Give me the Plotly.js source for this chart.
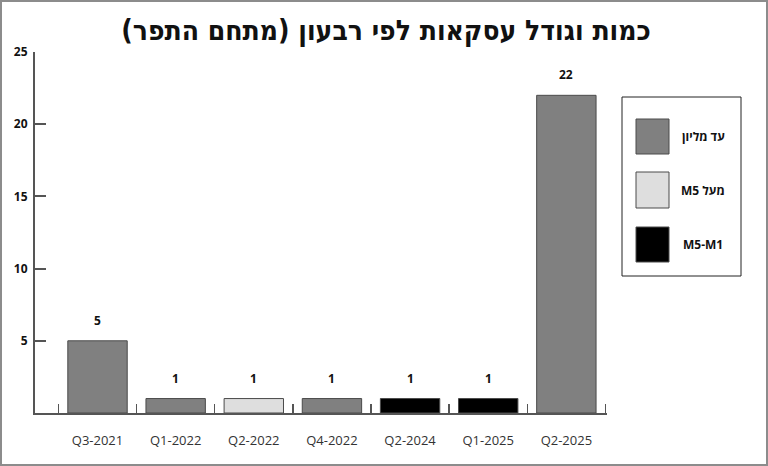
<!DOCTYPE html>
<html>
<head>
<meta charset="utf-8">
<script src="https://cdn.plot.ly/plotly-3.0.1.min.js"></script>
<style>
  body { margin: 0; background: #fff; }
  #wrap { position: relative; width: 768px; height: 466px; }
  #chart { width: 768px; height: 466px; }
  #frame { position: absolute; left: 0; top: 0; width: 768px; height: 466px;
           box-sizing: border-box; border: 2px solid #8c8c8c; pointer-events: none; }
</style>
</head>
<body>
<div id="wrap"><div id="chart"></div><div id="frame"></div></div>
<script>
var quarters = ['Q3-2021', 'Q1-2022', 'Q2-2022', 'Q4-2022', 'Q2-2024', 'Q1-2025', 'Q2-2025'];
var upToMillion = [5, 1, null, 1, null, null, 22];
var above5M = [null, null, 1, null, null, null, null];
var m1toM5 = [null, null, null, null, 1, 1, null];
var seriesNames = ['עד מליון', '\u202Bמעל M5\u202C', 'M5-M1'];
var seriesColors = ['#808080', '#dedede', '#000000'];
var yTicks = [5, 10, 15, 20, 25];

var W = 768, H = 466;
var margin = {l: 35, r: 161, t: 52, b: 53};
var plotW = W - margin.l - margin.r;
var plotH = H - margin.t - margin.b;

// pixel -> paper coords, for the hand drawn legend box
function px(x) { return (x - margin.l) / plotW; }
function py(y) { return (H - margin.b - y) / plotH; }

var allSeries = [upToMillion, above5M, m1toM5];
var traces = allSeries.map(function (vals, i) {
    return {
        type: 'bar',
        x: quarters,
        y: vals,
        name: seriesNames[i],
        width: 0.76,
        marker: {color: seriesColors[i], line: {color: '#4a4a4a', width: 1}},
        showlegend: false,
        hoverinfo: 'x+y'
    };
});

// value labels above the bars
var annotations = [];
quarters.forEach(function (q, k) {
    var total = allSeries.map(s => s[k] || 0).reduce((a, b) => a + b, 0);
    annotations.push({
        x: q, y: total, xref: 'x', yref: 'y',
        text: String(total), showarrow: false,
        yanchor: 'bottom', yshift: 10,
        font: {family: 'Open Sans', size: 12, color: '#111', weight: 'bold'}
    });
});

// legend: box + big swatches + labels
var shapes = [{
    type: 'rect', xref: 'paper', yref: 'paper',
    x0: px(622), x1: px(741), y0: py(276), y1: py(97),
    line: {color: '#222', width: 1}, fillcolor: 'rgba(0,0,0,0)'
}];
var rows = [[119, 154], [172, 208], [227, 262]];
rows.forEach(function (r, i) {
    shapes.push({
        type: 'rect', xref: 'paper', yref: 'paper',
        x0: px(636), x1: px(669), y0: py(r[1]), y1: py(r[0]),
        line: {color: '#4a4a4a', width: 1}, fillcolor: seriesColors[i]
    });
    annotations.push({
        xref: 'paper', yref: 'paper',
        x: px(703), y: py((r[0] + r[1]) / 2),
        text: seriesNames[i], showarrow: false,
        xanchor: 'center', yanchor: 'middle',
        font: {family: 'Open Sans', size: 12, color: '#111', weight: 'bold'}
    });
});

var layout = {
    width: W, height: H,
    margin: margin,
    paper_bgcolor: '#fff', plot_bgcolor: '#fff',
    barmode: 'overlay',
    font: {family: 'Open Sans', color: '#222'},
    title: {
        text: 'כמות וגודל עסקאות לפי רבעון (מתחם התפר)\u200F',
        x: 386 / W, xref: 'container', xanchor: 'center',
        y: 1 - 30 / H, yref: 'container', yanchor: 'middle',
        font: {family: 'DejaVu Sans Condensed', size: 28, color: '#111', weight: 'bold'}
    },
    xaxis: {
        type: 'category',
        range: [-0.8, 6.52],
        showline: true, linecolor: '#555', linewidth: 2,
        ticks: 'inside', tickson: 'boundaries', ticklen: 9, tickwidth: 1.5, tickcolor: '#555',
        ticklabelstandoff: 14,
        tickfont: {family: 'Open Sans', size: 13, color: '#333'},
        showgrid: false, zeroline: false, fixedrange: true
    },
    yaxis: {
        range: [0, 25],
        tickvals: yTicks,
        showline: true, linecolor: '#555', linewidth: 2,
        ticks: 'inside', ticklen: 11, tickwidth: 2, tickcolor: '#555',
        ticklabelstandoff: 3,
        tickfont: {family: 'Open Sans', size: 12, color: '#111', weight: 'bold'},
        showgrid: false, zeroline: false, fixedrange: true
    },
    shapes: shapes,
    annotations: annotations
};

Plotly.newPlot('chart', traces, layout, {displayModeBar: false, staticPlot: true});
</script>
</body>
</html>
